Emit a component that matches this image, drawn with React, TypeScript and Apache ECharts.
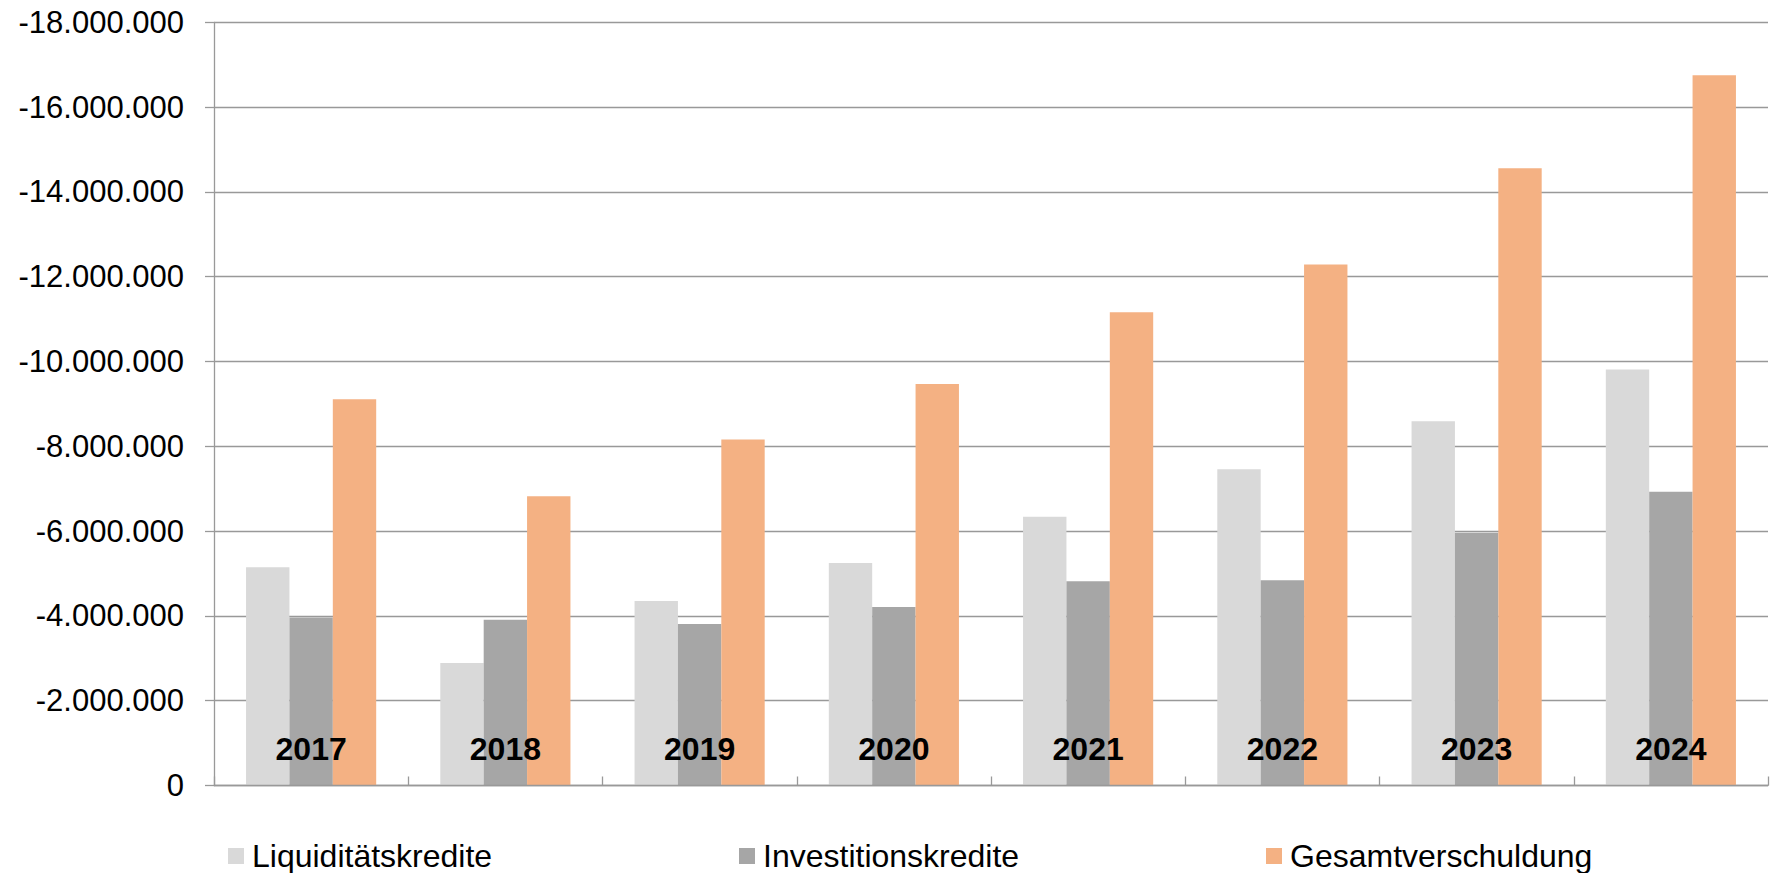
import React, { useEffect, useRef } from "react";
import * as echarts from "echarts";

const categories = ["2017", "2018", "2019", "2020", "2021", "2022", "2023", "2024"];
const seriesNames = ["Liquiditätskredite", "Investitionskredite", "Gesamtverschuldung"];
const liquiditaetskredite = [-5150000, -2890000, -4350000, -5250000, -6340000, -7460000, -8590000, -9810000];
const investitionskredite = [-3960000, -3910000, -3810000, -4210000, -4820000, -4840000, -5960000, -6930000];
const gesamtverschuldung = [-9110000, -6820000, -8160000, -9470000, -11160000, -12290000, -14560000, -16750000];
const yMin = -18000000;
const yMax = 0;
const yInterval = 2000000;
const colors = ["#D9D9D9", "#A6A6A6", "#F4B183"];

const FONT = "'Liberation Sans', Arial, sans-serif";

function formatDE(v: number): string {
  const neg = v < 0;
  const s = Math.round(Math.abs(v)).toString();
  const parts: string[] = [];
  for (let i = s.length; i > 0; i -= 3) {
    parts.unshift(s.substring(Math.max(0, i - 3), i));
  }
  return (neg ? "-" : "") + parts.join(".");
}

export default function App() {
  const ref = useRef<HTMLDivElement>(null);

  useEffect(() => {
    document.body.style.margin = "0";
    document.body.style.overflow = "hidden";
    if (!ref.current) return;
    const chart = echarts.init(ref.current, undefined, { renderer: "svg" });
    const legendLefts = [228, 739, 1266];
    const seriesData = [liquiditaetskredite, investitionskredite, gesamtverschuldung];
    chart.setOption({
      animation: false,
      backgroundColor: "#ffffff",
      textStyle: { fontFamily: FONT },
      grid: { left: 214, right: 5, top: 22.3, bottom: 87.5, containLabel: false },
      legend: seriesNames.map((n, i) => ({
        data: [n],
        left: legendLefts[i],
        top: 840,
        padding: 0,
        icon: "rect",
        itemWidth: 16,
        itemHeight: 16,
        selectedMode: false,
        textStyle: {
          fontFamily: FONT,
          fontSize: 32,
          color: "#000",
          lineHeight: 32,
          padding: [0, 0, 0, 3],
        },
      })),
      xAxis: {
        type: "category",
        data: categories,
        z: 5,
        axisLine: { show: true, lineStyle: { color: "#999999", width: 1.3 } },
        axisTick: { show: true, inside: true, length: 9, lineStyle: { color: "#999999", width: 1.3 } },
        axisLabel: {
          show: true,
          margin: -37,
          verticalAlign: "middle",
          fontFamily: FONT,
          fontSize: 32,
          fontWeight: "bold",
          color: "#000",
        },
        splitLine: { show: false },
      },
      yAxis: {
        type: "value",
        inverse: true,
        min: yMin,
        max: yMax,
        interval: yInterval,
        axisLine: { show: true, lineStyle: { color: "#999999", width: 1.3 } },
        axisTick: { show: true, inside: false, length: 9, lineStyle: { color: "#999999", width: 1.3 } },
        axisLabel: {
          margin: 30,
          fontFamily: FONT,
          fontSize: 31,
          color: "#000",
          formatter: (v: number) => formatDE(v),
        },
        splitLine: { show: true, lineStyle: { color: "#999999", width: 1.3 } },
      },
      series: seriesNames.map((n, i) => ({
        name: n,
        type: "bar",
        data: seriesData[i],
        barGap: "0%",
        barCategoryGap: "33%",
        itemStyle: { color: colors[i] },
      })),
    });
    return () => chart.dispose();
  }, []);

  return <div ref={ref} style={{ width: 1773, height: 873 }} />;
}
